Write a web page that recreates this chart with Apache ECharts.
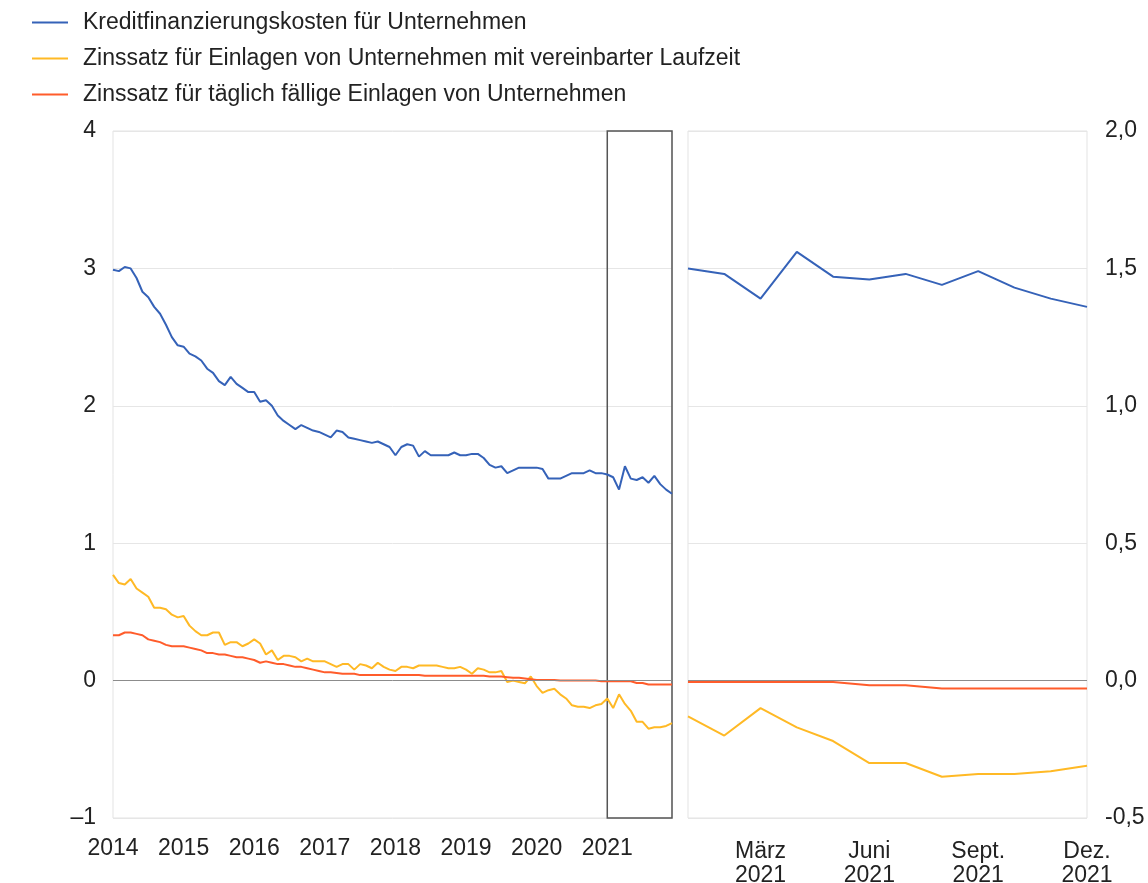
<!DOCTYPE html>
<html>
<head>
<meta charset="utf-8">
<script src="https://cdn.jsdelivr.net/npm/echarts@6/dist/echarts.min.js"></script>
<style>
html,body{margin:0;padding:0;background:#fff;}
#chart{width:1148px;height:883px;}
</style>
</head>
<body>
<div id="chart"></div>
<script>
// ---- data ----
const years = [2014, 2015, 2016, 2017, 2018, 2019, 2020, 2021];
const months2021Labels = ['Jan.', 'Feb.', 'März', 'Apr.', 'Mai', 'Juni', 'Juli', 'Aug.', 'Sept.', 'Okt.', 'Nov.', 'Dez.'];
const seriesNames = [
  'Kreditfinanzierungskosten für Unternehmen',
  'Zinssatz für Einlagen von Unternehmen mit vereinbarter Laufzeit',
  'Zinssatz für täglich fällige Einlagen von Unternehmen'
];
const kreditkosten = [
  2.99, 2.98, 3.01, 3.00, 2.93, 2.83, 2.79, 2.72, 2.67, 2.59, 2.50, 2.44,
  2.43, 2.38, 2.36, 2.33, 2.27, 2.24, 2.18, 2.15, 2.21, 2.16, 2.13, 2.10,
  2.10, 2.03, 2.04, 2.00, 1.93, 1.89, 1.86, 1.83, 1.86, 1.84, 1.82, 1.81,
  1.79, 1.77, 1.82, 1.81, 1.77, 1.76, 1.75, 1.74, 1.73, 1.74, 1.72, 1.70,
  1.64, 1.70, 1.72, 1.71, 1.63, 1.67, 1.64, 1.64, 1.64, 1.64, 1.66, 1.64,
  1.64, 1.65, 1.65, 1.62, 1.57, 1.55, 1.56, 1.51, 1.53, 1.55, 1.55, 1.55,
  1.55, 1.54, 1.47, 1.47, 1.47, 1.49, 1.51, 1.51, 1.51, 1.53, 1.51, 1.51,
  1.50, 1.48, 1.39, 1.56, 1.47, 1.46, 1.48, 1.44, 1.49, 1.43, 1.39, 1.36
];
const einlagenLaufzeit = [
  0.77, 0.71, 0.70, 0.74, 0.67, 0.64, 0.61, 0.53, 0.53, 0.52, 0.48, 0.46,
  0.47, 0.40, 0.36, 0.33, 0.33, 0.35, 0.35, 0.26, 0.28, 0.28, 0.25, 0.27,
  0.30, 0.27, 0.19, 0.22, 0.15, 0.18, 0.18, 0.17, 0.14, 0.16, 0.14, 0.14,
  0.14, 0.12, 0.10, 0.12, 0.12, 0.08, 0.12, 0.11, 0.09, 0.13, 0.10, 0.08,
  0.07, 0.10, 0.10, 0.09, 0.11, 0.11, 0.11, 0.11, 0.10, 0.09, 0.09, 0.10,
  0.08, 0.05, 0.09, 0.08, 0.06, 0.06, 0.07, -0.01, 0.00, -0.01, -0.02, 0.03,
  -0.04, -0.09, -0.07, -0.06, -0.10, -0.13, -0.18, -0.19, -0.19, -0.20, -0.18, -0.17,
  -0.13, -0.20, -0.10, -0.17, -0.22, -0.30, -0.30, -0.35, -0.34, -0.34, -0.33, -0.31
];
const einlagenTaeglich = [
  0.33, 0.33, 0.35, 0.35, 0.34, 0.33, 0.30, 0.29, 0.28, 0.26, 0.25, 0.25,
  0.25, 0.24, 0.23, 0.22, 0.20, 0.20, 0.19, 0.19, 0.18, 0.17, 0.17, 0.16,
  0.15, 0.13, 0.14, 0.13, 0.12, 0.12, 0.11, 0.10, 0.10, 0.09, 0.08, 0.07,
  0.06, 0.06, 0.055, 0.05, 0.05, 0.05, 0.04, 0.04, 0.04, 0.04, 0.04, 0.04,
  0.04, 0.04, 0.04, 0.04, 0.04, 0.035, 0.035, 0.035, 0.035, 0.035, 0.035, 0.035,
  0.035, 0.035, 0.035, 0.035, 0.03, 0.03, 0.03, 0.025, 0.02, 0.02, 0.015, 0.01,
  0.005, 0.005, 0.005, 0.005, 0.0, 0.0, 0.0, 0.0, 0.0, 0.0, 0.0, -0.005,
  -0.005, -0.005, -0.005, -0.005, -0.005, -0.017, -0.017, -0.029, -0.029, -0.029, -0.029, -0.029
];
const leftTicks = {min: -1, max: 4, interval: 1};
const rightTicks = {min: -0.5, max: 2.0, interval: 0.5};

// ---- build ----
const monthCats = [];
years.forEach(y => { for (let m = 1; m <= 12; m++) monthCats.push(y + '-' + (m < 10 ? '0' + m : m)); });
const cats2021 = monthCats.slice(-12);
const colors = ['#3562b8', '#ffb925', '#ff5c2b'];
const font = 'Liberation Sans, Arial, sans-serif';
const txt = {color: '#222', fontSize: 23, fontFamily: font};
const allData = [kreditkosten, einlagenLaufzeit, einlagenTaeglich];

const series = [];
allData.forEach((d, k) => {
  series.push({
    name: seriesNames[k], type: 'line', xAxisIndex: 0, yAxisIndex: 0,
    data: d, symbol: 'none', lineStyle: {width: 2, color: colors[k]}, itemStyle: {color: colors[k]},
    z: 3, silent: true
  });
  series.push({
    name: seriesNames[k], type: 'line', xAxisIndex: 1, yAxisIndex: 1,
    data: d.slice(-12), symbol: 'none', lineStyle: {width: 2, color: colors[k]}, itemStyle: {color: colors[k]},
    z: 3, silent: true
  });
});
// zero lines and 2021 box
series.push({
  type: 'line', xAxisIndex: 0, yAxisIndex: 0, data: [], silent: true, z: 2,
  markLine: {silent: true, symbol: 'none', label: {show: false}, lineStyle: {color: '#8c8c8c', width: 1, type: 'solid'}, data: [{yAxis: 0}]},
  markArea: {silent: true, itemStyle: {color: 'rgba(0,0,0,0)', borderColor: '#555', borderWidth: 1.5},
    data: [[{xAxis: cats2021[0]}, {xAxis: cats2021[11]}]]}
});
series.push({
  type: 'line', xAxisIndex: 1, yAxisIndex: 1, data: [], silent: true, z: 2,
  markLine: {silent: true, symbol: 'none', label: {show: false}, lineStyle: {color: '#8c8c8c', width: 1, type: 'solid'}, data: [{yAxis: 0}]}
});

const option = {
  animation: false,
  backgroundColor: '#fff',
  legend: {
    data: seriesNames, orient: 'vertical', left: 27, top: 6,
    itemWidth: 36, itemHeight: 14, itemGap: 13,
    icon: 'path://M0,6 L36,6 L36,8 L0,8 Z',
    textStyle: Object.assign({}, txt, {lineHeight: 23, padding: [0, 0, 0, 10]}),
    selectedMode: false
  },
  grid: [
    {left: 113, top: 131, width: 559, height: 687, show: true, borderColor: '#e3e3e3', borderWidth: 1,
      containLabel: false, outerBoundsMode: 'none'},
    {left: 688, top: 131, width: 399, height: 687, show: true, borderColor: '#e3e3e3', borderWidth: 1,
      containLabel: false, outerBoundsMode: 'none'}
  ],
  xAxis: [
    {type: 'category', gridIndex: 0, data: monthCats, boundaryGap: false,
      axisLine: {show: false}, axisTick: {show: false}, splitLine: {show: false},
      axisLabel: Object.assign({}, txt, {margin: 19, interval: (i) => i % 12 === 0,
        formatter: (v) => v.slice(0, 4)})},
    {type: 'category', gridIndex: 1, data: cats2021, boundaryGap: false,
      axisLine: {show: false}, axisTick: {show: false}, splitLine: {show: false},
      axisLabel: Object.assign({}, txt, {margin: 22, lineHeight: 24, interval: (i) => i % 3 === 2,
        formatter: (v, i) => months2021Labels[i] + '\n' + v.slice(0, 4)})}
  ],
  yAxis: [
    {type: 'value', gridIndex: 0, min: leftTicks.min, max: leftTicks.max, interval: leftTicks.interval,
      axisLine: {show: false}, axisTick: {show: false},
      splitLine: {show: true, lineStyle: {color: '#e6e6e6', width: 1}},
      axisLabel: Object.assign({}, txt, {margin: 17, formatter: (v) => v < 0 ? '\u2013' + Math.abs(v) : String(v)})},
    {type: 'value', gridIndex: 1, position: 'right', min: rightTicks.min, max: rightTicks.max, interval: rightTicks.interval,
      axisLine: {show: false}, axisTick: {show: false},
      splitLine: {show: true, lineStyle: {color: '#e6e6e6', width: 1}},
      axisLabel: Object.assign({}, txt, {margin: 18, formatter: (v) => v.toFixed(1).replace('.', ',')})}
  ],
  series: series
};
const chart = echarts.init(document.getElementById('chart'), null, {renderer: 'canvas'});
chart.setOption(option);
</script>
</body>
</html>
